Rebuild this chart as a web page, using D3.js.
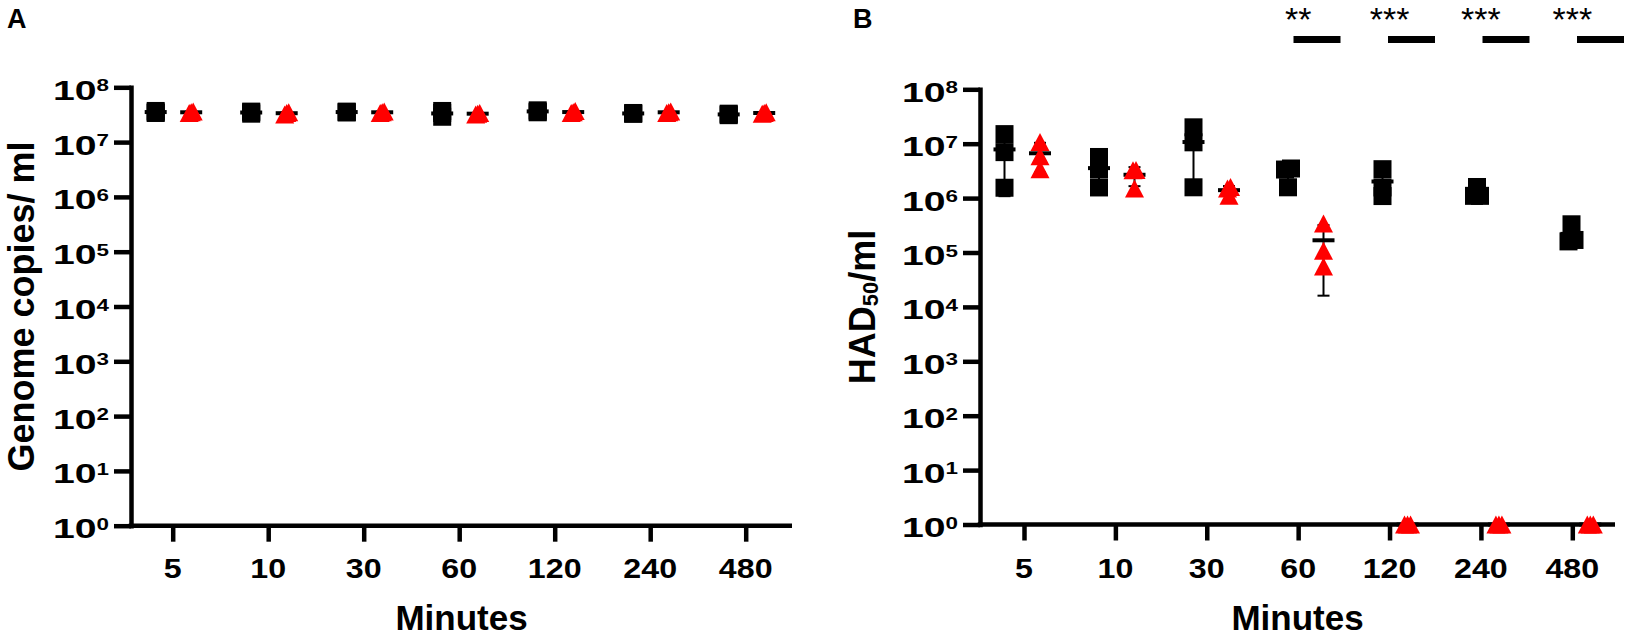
<!DOCTYPE html>
<html>
<head>
<meta charset="utf-8">
<script src="https://cdn.jsdelivr.net/npm/d3@7"></script>
<style>
  html, body { margin: 0; padding: 0; background: #fff; }
  svg { display: block; }
</style>
</head>
<body>
<svg id="chart" width="1641" height="638"></svg>
<script>
// ---------------- DATA ----------------
const minutes = ["5", "10", "30", "60", "120", "240", "480"];
const yTickExponents = [0, 1, 2, 3, 4, 5, 6, 7, 8];

// Panel A: genome copies / ml (black squares, red triangles), 3 replicates per time
const genomeBlack = [
  [3.7e7, 3.5e7, 3.4e7],
  [3.6e7, 3.5e7, 3.3e7],
  [3.6e7, 3.5e7, 3.5e7],
  [3.7e7, 3.4e7, 2.9e7],
  [3.8e7, 3.6e7, 3.5e7],
  [3.4e7, 3.3e7, 3.3e7],
  [3.3e7, 3.2e7, 3.1e7]
];
const genomeRed = [
  [3.6e7, 3.5e7, 3.4e7],
  [3.5e7, 3.4e7, 3.2e7],
  [3.6e7, 3.5e7, 3.4e7],
  [3.4e7, 3.3e7, 3.2e7],
  [3.7e7, 3.5e7, 3.4e7],
  [3.6e7, 3.5e7, 3.4e7],
  [3.5e7, 3.4e7, 3.3e7]
];

// Panel B: HAD50 / ml
const hadBlack = [
  [1.5e7, 7.0e6, 1.55e6],
  [5.7e6, 3.4e6, 1.57e6],
  [2.0e7, 1.06e7, 1.58e6],
  [3.5e6, 3.35e6, 1.58e6],
  [3.4e6, 1.57e6, 1.09e6],
  [1.6e6, 1.1e6, 1.1e6],
  [3.3e5, 1.7e5, 1.6e5]
];
const hadRed = [
  [1.07e7, 5.9e6, 3.4e6],
  [3.3e6, 3.25e6, 1.5e6],
  [1.6e6, 1.5e6, 1.1e6],
  [3.4e5, 1.08e5, 5.5e4],
  [1, 1, 1],
  [1, 1, 1],
  [1, 1, 1]
];
const detectionLimit = 1;

// Significance annotations (panel B)
const sigMinutes = ["60", "120", "240", "480"];
const sigLabels = ["**", "***", "***", "***"];

// ---------------- DRAWING ----------------
const FONT = "'Liberation Sans', Arial, Helvetica, sans-serif";
const RED = "#ff0000";
const svg = d3.select("#chart");

const panels = [
  {
    letter: "A", letterX: 7,
    title: "Genome copies/ ml", titleX: 33.5,
    black: genomeBlack, red: genomeRed,
    axisX: 131, axisRight: 792, yTop: 87.3, yBottom: 525.7,
    tickRange: [172.7, 745.7], markRange: [172.7, 745.7],
    blackOff: -17, redOff: 18.5, floorRedOff: 18.5,
    blackDodge: 0, redDodge: 2
  },
  {
    letter: "B", letterX: 853,
    title: null, titleX: 875,
    black: hadBlack, red: hadRed,
    axisX: 980, axisRight: 1615, yTop: 89.3, yBottom: 524.5,
    tickRange: [1024, 1572.3], markRange: [1022, 1589],
    blackOff: -17.5, redOff: 18, floorRedOff: 18,
    blackDodge: 6, redDodge: 3,
    sig: true
  }
];

function dodgeOffsets(vals, y, spacing) {
  // cluster points whose pixel positions nearly coincide and spread them horizontally
  const idx = vals.map((v, i) => i).sort((a, b) => y(vals[b]) - y(vals[a]));
  const offs = new Array(vals.length).fill(0);
  if (!spacing) return offs;
  let clusters = [];
  let cur = [idx[0]];
  for (let k = 1; k < idx.length; k++) {
    if (Math.abs(y(vals[idx[k]]) - y(vals[cur[cur.length - 1]])) < 4) cur.push(idx[k]);
    else { clusters.push(cur); cur = [idx[k]]; }
  }
  clusters.push(cur);
  clusters.forEach(c => c.forEach((id, j) => { offs[id] = (j - (c.length - 1) / 2) * spacing; }));
  return offs;
}

const SQ = 18;          // square size
const TW = 19, TH = 18; // triangle size
const triPath = `M0,${-TH / 2}L${TW / 2},${TH / 2}L${-TW / 2},${TH / 2}Z`;

panels.forEach(cfg => {
  const g = svg.append("g");
  const y = d3.scaleLog().domain([1, 1e8]).range([cfg.yBottom, cfg.yTop]);
  const xAxisScale = d3.scalePoint().domain(minutes).range(cfg.tickRange);
  const xMarks = d3.scalePoint().domain(minutes).range(cfg.markRange);

  // ---- Y axis ----
  const yAxis = d3.axisLeft(y)
    .tickValues(yTickExponents.map(e => Math.pow(10, e)))
    .tickSize(17).tickSizeOuter(0).tickFormat("");
  const ya = g.append("g").attr("transform", `translate(${cfg.axisX},0)`).call(yAxis);
  ya.select(".domain").attr("stroke", "#000").attr("stroke-width", 4.5).attr("stroke-linecap", "square");
  ya.selectAll(".tick line").attr("stroke", "#000").attr("stroke-width", 4.5);

  yTickExponents.forEach(e => {
    const t = g.append("text")
      .attr("transform", `translate(${cfg.axisX - 22},${y(Math.pow(10, e)) + 12.4}) scale(1.4,1)`)
      .attr("text-anchor", "end")
      .attr("font-family", FONT).attr("font-weight", "bold").attr("fill", "#000");
    t.append("tspan").attr("font-size", 28).text("10");
    t.append("tspan").attr("font-size", 16).attr("dy", -8.4).text(String(e));
  });

  // ---- X axis ----
  const xAxis = d3.axisBottom(xAxisScale).tickSize(16).tickSizeOuter(0).tickFormat("");
  const xa = g.append("g").attr("transform", `translate(0,${cfg.yBottom})`).call(xAxis);
  xa.select(".domain").remove();
  xa.selectAll(".tick line").attr("stroke", "#000").attr("stroke-width", 4.5);
  g.append("line")
    .attr("x1", cfg.axisX - 2.25).attr("x2", cfg.axisRight)
    .attr("y1", cfg.yBottom).attr("y2", cfg.yBottom)
    .attr("stroke", "#000").attr("stroke-width", 4.5);

  minutes.forEach(m => {
    g.append("text")
      .attr("transform", `translate(${xAxisScale(m)},577.5) scale(1.15,1)`)
      .attr("text-anchor", "middle")
      .attr("font-family", FONT).attr("font-weight", "bold").attr("font-size", 28)
      .attr("fill", "#000").text(m);
  });

  g.append("text")
    .attr("x", (cfg.axisX + cfg.axisRight) / 2).attr("y", 630)
    .attr("text-anchor", "middle")
    .attr("font-family", FONT).attr("font-weight", "bold").attr("font-size", 35)
    .text("Minutes");

  // ---- Y title ----
  const cy = (cfg.yTop + cfg.yBottom) / 2;
  const yt = g.append("text")
    .attr("transform", `translate(${cfg.titleX},${cy}) rotate(-90)`)
    .attr("text-anchor", "middle")
    .attr("font-family", FONT).attr("font-weight", "bold").attr("font-size", 36);
  if (cfg.title) {
    yt.text(cfg.title);
  } else {
    yt.append("tspan").text("HAD");
    yt.append("tspan").attr("font-size", 22).attr("dy", 3).text("50");
    yt.append("tspan").attr("dy", -3).text("/ml");
  }

  // ---- Panel letter ----
  g.append("text")
    .attr("x", cfg.letterX).attr("y", 28)
    .attr("font-family", FONT).attr("font-weight", "bold").attr("font-size", 27)
    .text(cfg.letter);

  // ---- Marks ----
  const series = [
    { data: cfg.black, off: cfg.blackOff, floorOff: cfg.blackOff, dodge: cfg.blackDodge, kind: "square" },
    { data: cfg.red, off: cfg.redOff, floorOff: cfg.floorRedOff, dodge: cfg.redDodge, kind: "triangle" }
  ];

  function groupX(s, i) {
    const m = minutes[i];
    const atLimit = s.data[i].every(v => v <= detectionLimit);
    return atLimit ? xAxisScale(m) + s.floorOff : xMarks(m) + s.off;
  }

  // error bars + means (behind points)
  const eb = g.append("g");
  series.forEach(s => {
    s.data.forEach((vals, i) => {
      const cx = groupX(s, i);
      const mu = d3.mean(vals), sd = d3.deviation(vals) || 0;
      if (sd > 0) {
        const hi = mu + sd, lo = mu - sd;
        const yHi = y(hi), yLo = lo > 0 ? y(lo) : cfg.yBottom;
        eb.append("line").attr("x1", cx).attr("x2", cx).attr("y1", yHi).attr("y2", yLo)
          .attr("stroke", "#000").attr("stroke-width", 2);
        eb.append("line").attr("x1", cx - 6).attr("x2", cx + 6).attr("y1", yHi).attr("y2", yHi)
          .attr("stroke", "#000").attr("stroke-width", 2);
        if (lo > 0) eb.append("line").attr("x1", cx - 6).attr("x2", cx + 6).attr("y1", yLo).attr("y2", yLo)
          .attr("stroke", "#000").attr("stroke-width", 2);
      }
      eb.append("line").attr("x1", cx - 11).attr("x2", cx + 11).attr("y1", y(mu)).attr("y2", y(mu))
        .attr("stroke", "#000").attr("stroke-width", 4);
    });
  });

  // points
  series.forEach(s => {
    const pg = g.append("g");
    s.data.forEach((vals, i) => {
      const cx = groupX(s, i);
      const offs = dodgeOffsets(vals, y, s.dodge);
      vals.forEach((v, k) => {
        const px = cx + offs[k], py = y(v);
        if (s.kind === "square") {
          pg.append("rect").attr("x", px - SQ / 2).attr("y", py - SQ / 2)
            .attr("width", SQ).attr("height", SQ).attr("fill", "#000");
        } else {
          pg.append("path").attr("d", triPath)
            .attr("transform", `translate(${px},${py})`).attr("fill", RED);
        }
      });
    });
  });

  // ---- significance ----
  if (cfg.sig) {
    sigMinutes.forEach((m, i) => {
      g.append("text")
        .attr("x", xAxisScale(m)).attr("y", 31)
        .attr("text-anchor", "middle")
        .attr("font-family", FONT).attr("font-size", 34).attr("fill", "#000")
        .text(sigLabels[i]);
      g.append("rect")
        .attr("x", xMarks(m) + 11.5 - 23.5).attr("y", 36)
        .attr("width", 47).attr("height", 7).attr("fill", "#000");
    });
  }
});
</script>
</body>
</html>
